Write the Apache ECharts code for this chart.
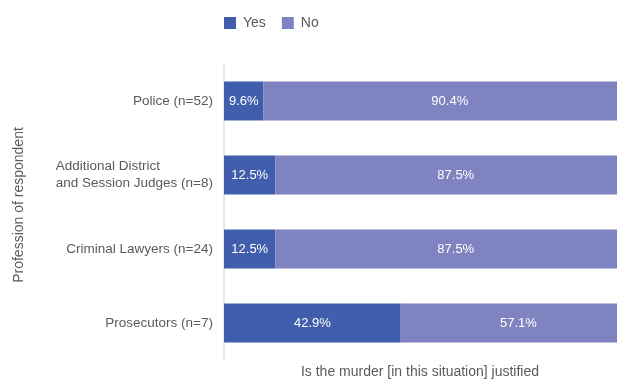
<!DOCTYPE html>
<html>
<head>
<meta charset="utf-8">
<script src="https://cdn.jsdelivr.net/npm/echarts@6/dist/echarts.min.js"></script>
<style>
  html, body { margin: 0; padding: 0; background: #fff; }
  #chart { width: 617px; height: 379px; }
</style>
</head>
<body>
<div id="chart"></div>
<script>
// Respondent groups, top to bottom
const categories = [
  'Police (n=52)',
  'Additional District\nand Session Judges (n=8)',
  'Criminal Lawyers (n=24)',
  'Prosecutors (n=7)'
];
// Share of answers (%)
const yesValues = [9.6, 12.5, 12.5, 42.9];
const noValues = [90.4, 87.5, 87.5, 57.1];
const seriesNames = ['Yes', 'No'];

const FONT = '"Liberation Sans", Arial, Helvetica, sans-serif';
const TEXT_COLOR = '#5a5a5a';
const YES_COLOR = '#415eac';
const NO_COLOR = '#7f84c1';

const chart = echarts.init(document.getElementById('chart'), null, { renderer: 'canvas' });

const barLabel = {
  show: true,
  position: 'inside',
  color: '#ffffff',
  fontFamily: FONT,
  fontSize: 13,
  formatter: p => p.value.toFixed(1) + '%'
};

chart.setOption({
  animation: false,
  textStyle: { fontFamily: FONT },
  legend: {
    data: seriesNames,
    left: 219,
    top: 11,
    icon: 'rect',
    itemWidth: 12,
    itemHeight: 12,
    itemGap: 16,
    textStyle: { fontFamily: FONT, fontSize: 14, color: TEXT_COLOR, padding: [0, 0, 0, 2] }
  },
  // the plot runs past the right edge of the canvas, so the bars are cut there
  grid: { left: 224, top: 64, width: 412, height: 296, outerBoundsMode: 'none', containLabel: false },
  xAxis: {
    type: 'value',
    min: 0,
    max: 100,
    axisLine: { show: false },
    axisTick: { show: false },
    axisLabel: { show: false },
    splitLine: { show: false }
  },
  yAxis: {
    type: 'category',
    data: categories,
    inverse: true,
    axisLine: { show: true, lineStyle: { color: '#dedede', width: 1.5 } },
    axisTick: { show: false },
    axisLabel: {
      margin: 11,
      fontFamily: FONT,
      fontSize: 13.5,
      color: TEXT_COLOR,
      formatter: v => v.split('\n').map(s => '{l|' + s + '}').join('\n'),
      rich: {
        l: { align: 'left', fontFamily: FONT, fontSize: 13.5, color: TEXT_COLOR, lineHeight: 17 }
      }
    }
  },
  graphic: [
    {
      type: 'text',
      x: 420,
      y: 372,
      style: {
        text: 'Is the murder [in this situation] justified',
        fontFamily: FONT,
        fontSize: 14,
        fill: TEXT_COLOR,
        textAlign: 'center',
        textVerticalAlign: 'middle'
      }
    },
    {
      type: 'text',
      x: 19,
      y: 205,
      rotation: Math.PI / 2,
      style: {
        text: 'Profession of respondent',
        fontFamily: FONT,
        fontSize: 14,
        fill: TEXT_COLOR,
        textAlign: 'center',
        textVerticalAlign: 'middle'
      }
    }
  ],
  series: [
    {
      name: seriesNames[0],
      type: 'bar',
      stack: 'total',
      data: yesValues,
      barWidth: 39,
      itemStyle: { color: YES_COLOR },
      label: barLabel
    },
    {
      name: seriesNames[1],
      type: 'bar',
      stack: 'total',
      data: noValues,
      barWidth: 39,
      itemStyle: { color: NO_COLOR },
      label: barLabel
    }
  ]
});
</script>
</body>
</html>
